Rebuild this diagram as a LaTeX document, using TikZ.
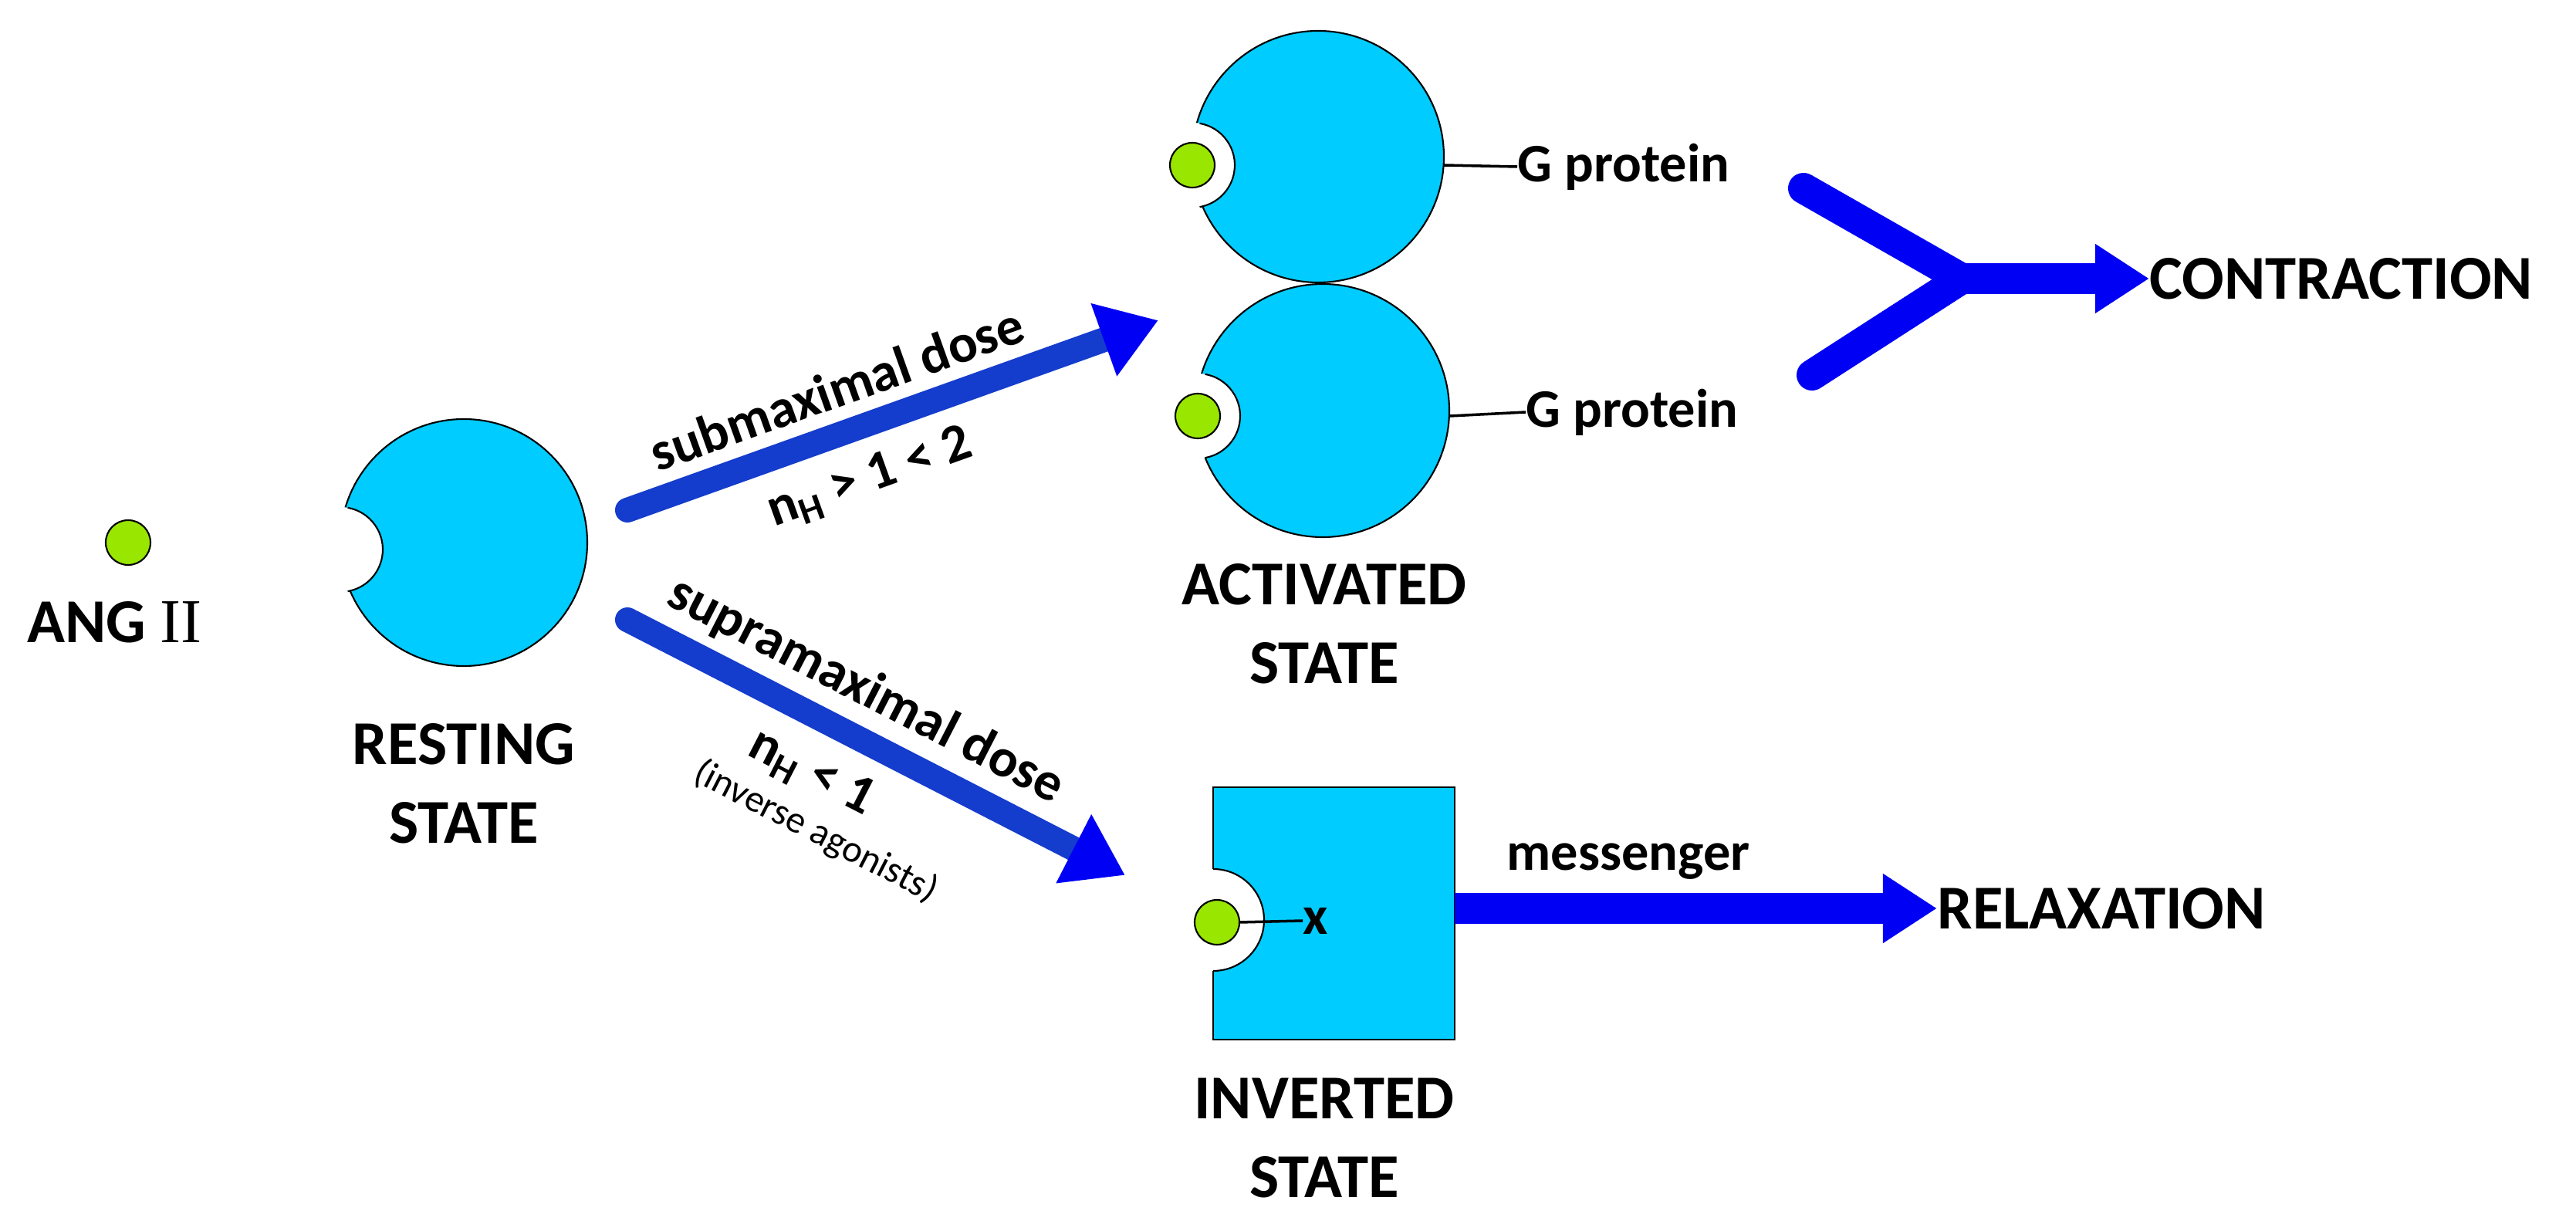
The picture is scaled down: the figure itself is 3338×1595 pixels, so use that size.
\documentclass[tikz,border=0pt]{standalone}
\usepackage{fontspec}
\setmainfont{Carlito}
\newfontfamily\romfont{Liberation Serif}
\usetikzlibrary{arrows.meta}
\definecolor{rcyan}{RGB}{0,204,255}
\definecolor{lig}{RGB}{153,230,0}
\definecolor{shaft}{RGB}{20,60,205}
\definecolor{pblue}{RGB}{0,0,245}
\begin{document}
\begin{tikzpicture}[x=0.01cm,y=-0.01cm,
  cell/.style={fill=rcyan,draw=black,line width=0.6pt},
  lig/.style={fill=lig,draw=black,line width=0.6pt},
  notch/.style={fill=white},
  lbl/.style={font=\fontsize{23}{27}\selectfont\bfseries,align=center,inner sep=0pt},
  tag/.style={font=\fontsize{20}{24}\selectfont\bfseries,inner sep=0pt},
  fat/.style={line width=0.32cm,shaft,line cap=round,-{Triangle[length=0.75cm,width=0.95cm,fill=pblue,color=pblue]}},
  flow/.style={line width=0.4cm,pblue,-{Triangle[length=0.7cm,width=0.85cm]}}]
\useasboundingbox (0,0) rectangle (3338,1595);

% ligand
\draw[lig] (166,703) circle (29);
\node[lbl] (ang) at (148,806) {ANG {\romfont\mdseries II}};

% resting state
\draw[cell] (601,703) circle (160);
\fill[notch] (441,712) circle (55);
\draw[line width=0.6pt] (441,712) ++(-80:55) arc (-80:80:55);
\node[lbl] (rest) at (601,1015) {RESTING\\[2pt]STATE};

% activated states
\draw[cell] (1708,203) circle (163);
\fill[notch] (1545,214) circle (55);
\draw[line width=0.6pt] (1545,214) ++(-80:55) arc (-80:80:55);
\draw[lig] (1545,214) circle (29);
\draw[cell] (1714,532) circle (164);
\fill[notch] (1552,539) circle (55);
\draw[line width=0.6pt] (1552,539) ++(-80:55) arc (-80:80:55);
\draw[lig] (1552,539) circle (29);
\node[lbl] (act) at (1716,808) {ACTIVATED\\[2pt]STATE};

\node[tag,anchor=west] (g1) at (1966,216) {G protein};
\node[tag,anchor=west] (g2) at (1977,534) {G protein};
\draw[line width=1pt] (1871,214) -- (g1.west);
\draw[line width=1pt] (1879,539) -- (g2.west);

% inverted state
\draw[cell] (1572,1020) rectangle (1885,1347);
\fill[notch] (1572,1192) circle (66);
\draw[line width=0.6pt] (1572,1126) arc (-90:90:66);
\draw[lig] (1577,1195) circle (29);
\node[tag] (x) at (1705,1193) {x};
\draw[line width=1pt] (1606,1195) -- (x.west);
\node[lbl] (inv) at (1716,1475) {INVERTED\\[2pt]STATE};

% dose arrows
\coordinate (s0) at (813,661);
\coordinate (s1) at (1501,415);
\coordinate (p0) at (813,803);
\coordinate (p1) at (1458,1134);
\draw[fat] (s0) -- (s1);
\draw[fat] (p0) -- (p1);
\node[tag,rotate=19.7] (sub) at (1084,503) {submaximal dose};
\node[tag,rotate=19.7] (nh1) at (1127,620) {n\textsubscript{H} > 1 < 2};
\node[tag,rotate=-27.2] (sup) at (1122,895) {supramaximal dose};
\node[tag,rotate=-27.2] (nh2) at (1051,1002) {n\textsubscript{H} < 1};
\node[tag,rotate=-27.2,font=\fontsize{14}{16}\selectfont] (ia) at (1057,1078) {(inverse agonists)};

% contraction
\coordinate (y1) at (2337,244);
\coordinate (y2) at (2348,486);
\coordinate (yj) at (2542,361);
\node[lbl,anchor=west] (con) at (2785,361) {CONTRACTION};
\draw[line width=0.4cm,pblue,line cap=round] (y1) -- (yj) -- (y2);
\draw[flow] (yj) -- (con.west);

% relaxation
\coordinate (m0) at (1885,1177);
\node[lbl,anchor=west] (rel) at (2510,1177) {RELAXATION};
\draw[flow] (m0) -- (rel.west);
\node[tag,anchor=south] (msg) at (2110,1140) {messenger};
\end{tikzpicture}
\end{document}
